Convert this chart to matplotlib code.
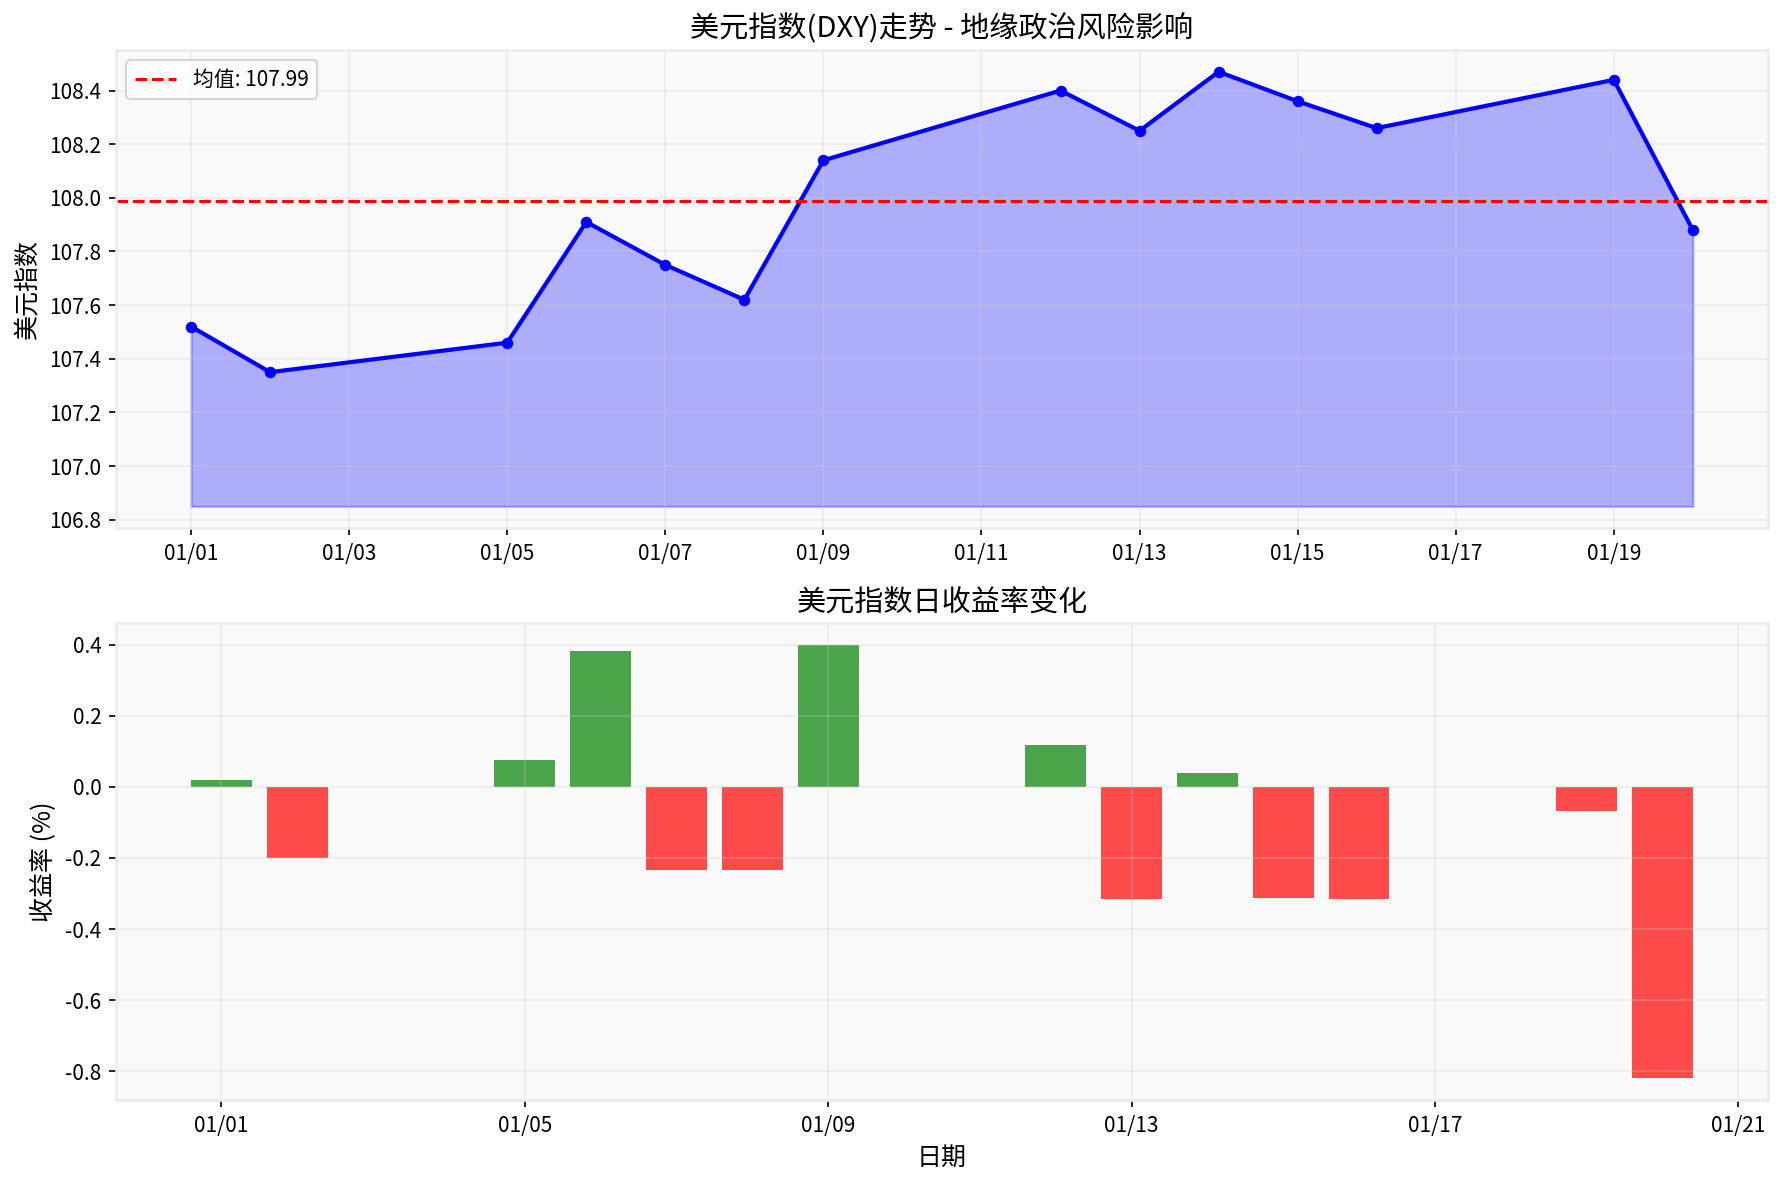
import matplotlib
matplotlib.use('Agg')
import matplotlib.pyplot as plt
import matplotlib.dates as mdates
import pandas as pd

plt.rcParams['font.family'] = ['Noto Sans CJK SC', 'DejaVu Sans']
plt.rcParams['axes.unicode_minus'] = False

# data
dates = pd.to_datetime(['2024-01-01', '2024-01-02', '2024-01-05', '2024-01-06',
                        '2024-01-07', '2024-01-08', '2024-01-09', '2024-01-12',
                        '2024-01-13', '2024-01-14', '2024-01-15', '2024-01-16',
                        '2024-01-19', '2024-01-20'])
dxy = [107.52, 107.35, 107.46, 107.91, 107.75, 107.62, 108.14,
       108.40, 108.25, 108.47, 108.36, 108.26, 108.44, 107.88]
returns = [0.02, -0.20, 0.075, 0.382, -0.233, -0.234, 0.40,
           0.117, -0.315, 0.039, -0.313, -0.316, -0.068, -0.82]

mean_val = sum(dxy) / len(dxy)

fig = plt.figure(figsize=(1782 / 150, 1186 / 150), dpi=150)
ax1 = fig.add_axes([0.0651, 0.5548, 0.9270, 0.4030])
ax2 = fig.add_axes([0.0651, 0.0725, 0.9270, 0.4022])

for ax in (ax1, ax2):
    ax.set_facecolor('#f9f9f9')
    ax.grid(True, color='#cccccc', alpha=0.3)
    for s in ax.spines.values():
        s.set_color('#ebebeb')
        s.set_linewidth(1.2)
    ax.tick_params(labelsize=10)

# top: index trend
ax1.plot(dates, dxy, color='blue', linewidth=2, marker='o', markersize=4.5)
ax1.fill_between(dates, dxy, min(dxy) - 0.5, color='blue', alpha=0.3)
ax1.axhline(mean_val, color='red', linestyle='--', linewidth=1.5,
            label=f'均值: {mean_val:.2f}')
ax1.set_title('美元指数(DXY)走势 - 地缘政治风险影响', fontsize=14)
ax1.set_ylabel('美元指数', fontsize=12)
ax1.legend(loc='upper left', fontsize=10)
ax1.xaxis.set_major_locator(mdates.DayLocator(bymonthday=range(1, 32, 2)))
ax1.xaxis.set_major_formatter(mdates.DateFormatter('%m/%d'))

# bottom: daily returns
colors = ['green' if r > 0 else 'red' for r in returns]
ax2.bar(dates, returns, width=0.8, color=colors, alpha=0.7)
ax2.set_title('美元指数日收益率变化', fontsize=14)
ax2.set_ylabel('收益率 (%)', fontsize=12)
ax2.set_xlabel('日期', fontsize=12)
ax2.xaxis.set_major_locator(mdates.DayLocator(bymonthday=range(1, 32, 4)))
ax2.xaxis.set_major_formatter(mdates.DateFormatter('%m/%d'))

fig.savefig('out.png', dpi=150)
